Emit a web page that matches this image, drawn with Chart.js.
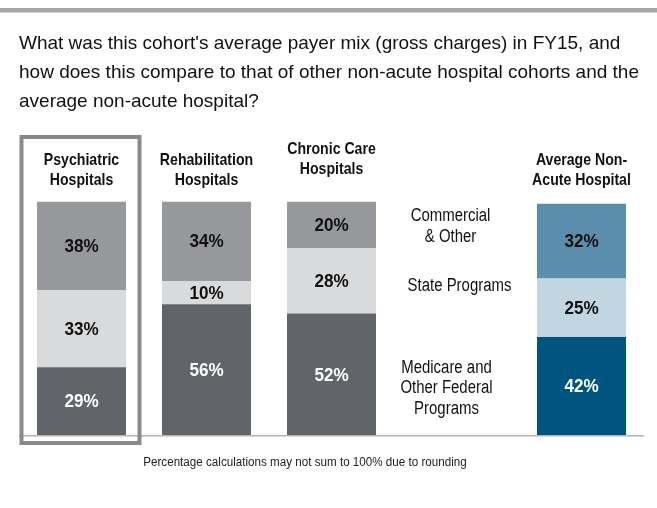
<!DOCTYPE html>
<html>
<head>
<meta charset="utf-8">
<script src="https://cdn.jsdelivr.net/npm/chart.js@4"></script>
<style>
  body { margin: 0; background: #fff; }
  #chart { position: relative; width: 657px; height: 508px; }
</style>
</head>
<body>
<div id="chart"><canvas id="myChart"></canvas></div>
<script>
// categories (4th slot is the column that holds the series names)
const categories = [
    ['Psychiatric', 'Hospitals'],
    ['Rehabilitation', 'Hospitals'],
    ['Chronic Care', 'Hospitals'],
    '',
    ['Average Non-', 'Acute Hospital']
]
const seriesNames = [
    ['Medicare and', 'Other Federal', 'Programs'],
    ['State Programs'],
    ['Commercial', '& Other']
]
const medicareFederal = [29, 56, 52, null, 42]
const statePrograms = [33, 10, 28, null, 25]
const commercialOther = [38, 34, 20, null, 32]
const yTicks = [0, 100]

const titleLines = [
    "What was this cohort's average payer mix (gross charges) in FY15, and",
    "how does this compare to that of other non-acute hospital cohorts and the",
    "average non-acute hospital?"
]
const footnote = 'Percentage calculations may not sum to 100% due to rounding'

const sans = '"Liberation Sans", Arial, sans-serif'

// grey for the three cohorts, blue for the average
const darkCols = ['#616469', '#616469', '#616469', '#616469', '#005480']
const lightCols = ['#d9dadc', '#d9dadc', '#d9dadc', '#d9dadc', '#c1d6e1']
const midCols = ['#97989c', '#97989c', '#97989c', '#97989c', '#5a8eab']
const labelCols = [
    ['#fff', '#fff', '#fff', '#fff', '#fff'],
    ['#111', '#111', '#111', '#111', '#111'],
    ['#111', '#111', '#111', '#111', '#111']
]

// no narrow face installed, so squeeze the normal one
function narrowText(ctx, text, x, y, sx) {
    ctx.save()
    ctx.translate(x, y)
    ctx.scale(sx, 1)
    ctx.fillText(text, 0, 0)
    ctx.restore()
}

const extras = {
    id: 'extras',
    beforeDraw(chart) {
        const ctx = chart.ctx
        ctx.save()
        ctx.fillStyle = '#a6a6a6'
        ctx.fillRect(0, 8, chart.width, 4.5)
        ctx.restore()
    },
    afterDatasetsDraw(chart) {
        const ctx = chart.ctx
        const area = chart.chartArea
        const x = chart.scales.x
        ctx.save()

        // baseline
        ctx.strokeStyle = '#b4b4b4'
        ctx.lineWidth = 1.5
        ctx.beginPath()
        ctx.moveTo(area.left, area.bottom + 0.75)
        ctx.lineTo(area.right, area.bottom + 0.75)
        ctx.stroke()

        // highlight box round first cohort
        const cx0 = x.getPixelForValue(0)
        ctx.strokeStyle = '#8a8a8a'
        ctx.lineWidth = 4
        ctx.strokeRect(cx0 - 60, area.top - 64.5, 118, area.bottom - area.top + 72.5)

        // category headers
        ctx.fillStyle = '#111'
        ctx.font = 'bold 17px ' + sans
        ctx.textAlign = 'center'
        ctx.textBaseline = 'alphabetic'
        categories.forEach((c, i) => {
            if (!c) return
            const cx = x.getPixelForValue(i)
            const up = i === 2 ? 11 : 0
            c.forEach((line, j) => {
                narrowText(ctx, line, cx, area.top - 36.5 - up + j * 20, 0.83)
            })
        })

        // value labels
        ctx.font = 'bold 19px ' + sans
        ctx.textBaseline = 'middle'
        chart.data.datasets.forEach((ds, d) => {
            const meta = chart.getDatasetMeta(d)
            meta.data.forEach((bar, i) => {
                const v = ds.data[i]
                if (v == null) return
                ctx.fillStyle = labelCols[d][i]
                narrowText(ctx, v + '%', bar.x, (bar.y + bar.base) / 2 + 1, 0.9)
            })
        })

        // series names in the empty column
        const lx = x.getPixelForValue(3)
        ctx.fillStyle = '#111'
        ctx.font = '18px ' + sans
        ctx.textBaseline = 'alphabetic'
        seriesNames[2].forEach((line, j) => narrowText(ctx, line, lx - 6, area.top + 19.5 + j * 20.5, 0.83))
        seriesNames[1].forEach((line) => narrowText(ctx, line, lx + 3, area.top + 89, 0.83))
        seriesNames[0].forEach((line, j) => narrowText(ctx, line, lx - 10, area.top + 171 + j * 20.5, 0.83))

        // footnote
        ctx.font = '12px ' + sans
        ctx.fillStyle = '#222'
        ctx.textBaseline = 'middle'
        narrowText(ctx, footnote, 305, area.bottom + 28, 0.97)

        ctx.restore()
    }
}

function createChart() {
    const chartie = document.getElementById('myChart')
    new Chart(chartie, {
        type: 'bar',
        data: {
            labels: categories,
            datasets: [
                { label: seriesNames[0].join(' '), data: medicareFederal, backgroundColor: darkCols },
                { label: seriesNames[1].join(' '), data: statePrograms, backgroundColor: lightCols },
                { label: seriesNames[2].join(' '), data: commercialOther, backgroundColor: midCols }
            ]
        },
        options: {
            responsive: true,
            maintainAspectRatio: false,
            animation: false,
            datasets: {
                bar: { barPercentage: 0.712, categoryPercentage: 1, borderWidth: 0 }
            },
            layout: { padding: { left: 19, right: 13, top: 0, bottom: 73 } },
            plugins: {
                legend: { display: false },
                tooltip: { enabled: false },
                title: {
                    display: true,
                    text: titleLines,
                    align: 'start',
                    color: '#111',
                    font: { family: sans, size: 19, weight: 'normal', lineHeight: 1.53 },
                    padding: { top: 29.5, bottom: 84.8 }
                }
            },
            scales: {
                x: { display: false, stacked: true },
                y: { display: false, stacked: true, min: yTicks[0], max: yTicks[1] }
            }
        },
        plugins: [extras]
    })
}

createChart()
</script>
</body>
</html>
